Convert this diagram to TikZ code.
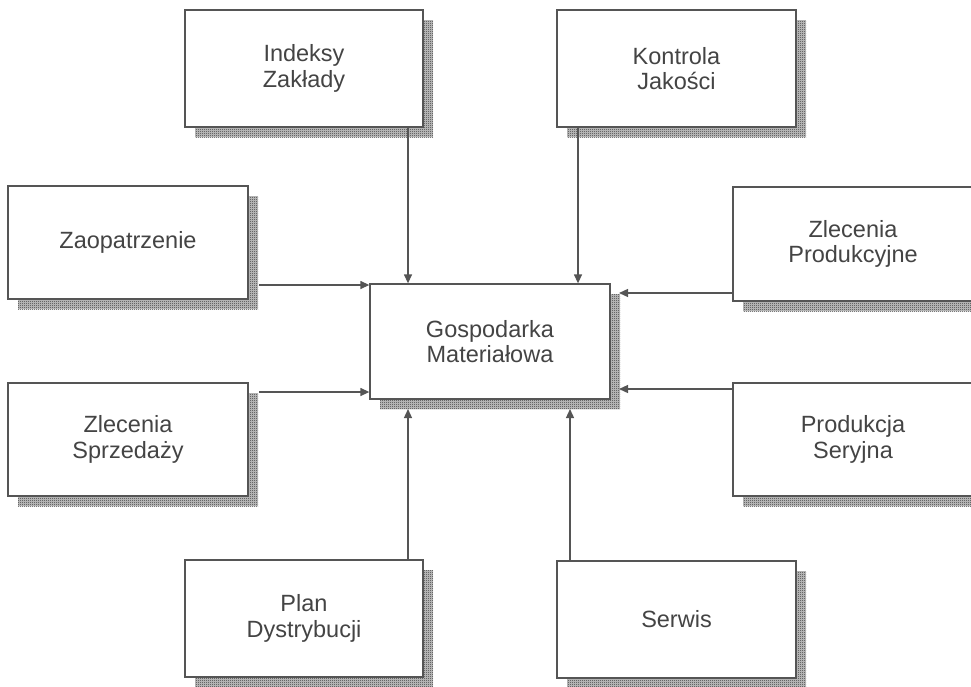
\documentclass[tikz,border=0pt]{standalone}
\usepackage{fontspec}
\setmainfont{Liberation Sans}
\usetikzlibrary{arrows.meta,patterns}
\definecolor{ink}{HTML}{444444}
\definecolor{linec}{HTML}{555555}
\pgfdeclarepatternformonly{finechk}{\pgfqpoint{0pt}{0pt}}{\pgfqpoint{2pt}{2pt}}{\pgfqpoint{2pt}{2pt}}{%
  \pgfpathrectangle{\pgfqpoint{0pt}{0pt}}{\pgfqpoint{1pt}{1pt}}%
  \pgfpathrectangle{\pgfqpoint{1pt}{1pt}}{\pgfqpoint{1pt}{1pt}}%
  \pgfusepath{fill}}
\tikzset{
  box/.style={draw=linec, line width=1.3pt, fill=white, align=center,
    text=ink, font=\fontsize{23.5}{25.5}\selectfont, inner sep=0pt},
  conn/.style={draw=linec, line width=1.3pt, -{Triangle[length=9pt,width=8pt]}},
  shadebase/.style={fill=gray!45},
  shade/.style={pattern=finechk, pattern color=black!80},
}
\newcommand{\shadowbox}[5]{%
  \fill[shadebase] ({#2+10},{#3+10}) rectangle ({#2+#4+10},{#3+#5+10});
  \fill[shade] ({#2+10},{#3+10}) rectangle ({#2+#4+10},{#3+#5+10});
}
\begin{document}
\begin{tikzpicture}[x=1pt,y=-1pt]
\useasboundingbox (0,0) rectangle (971,686);
% shadows
\shadowbox{a}{185}{10}{238}{117}
\shadowbox{b}{557}{10}{239}{117}
\shadowbox{c}{8}{186}{240}{113}
\shadowbox{d}{733}{187}{240}{114}
\shadowbox{e}{370}{284}{240}{115}
\shadowbox{f}{8}{383}{240}{113}
\shadowbox{g}{733}{383}{240}{113}
\shadowbox{h}{185}{560}{238}{117}
\shadowbox{i}{557}{561}{239}{117}
% boxes
\node[box, minimum width=238pt, minimum height=117pt] (idx) at (304,68.5) {Indeksy\\Zakłady};
\node[box, minimum width=239pt, minimum height=117pt] (kon) at (676.5,68.5) {Kontrola\\Jakości};
\node[box, minimum width=240pt, minimum height=113pt] (zao) at (128,242.5) {Zaopatrzenie};
\node[box, minimum width=240pt, minimum height=114pt] (zpr) at (853,244) {Zlecenia\\Produkcyjne};
\node[box, minimum width=240pt, minimum height=115pt] (gos) at (490,341.5) {Gospodarka\\Materiałowa};
\node[box, minimum width=240pt, minimum height=113pt] (zsp) at (128,439.5) {Zlecenia\\Sprzedaży};
\node[box, minimum width=240pt, minimum height=113pt] (pse) at (853,439.5) {Produkcja\\Seryjna};
\node[box, minimum width=238pt, minimum height=117pt] (pla) at (304,618.5) {Plan\\Dystrybucji};
\node[box, minimum width=239pt, minimum height=117pt] (ser) at (676.5,619.5) {Serwis};
% connector endpoints
\coordinate (zaoE) at (259,285);
\coordinate (zspE) at (259,392);
\coordinate (gosR1) at (619,293);
\coordinate (gosR2) at (619,389);
\coordinate (gosB1) at (408,409);
\coordinate (gosB2) at (570,409);
\coordinate (gosT2) at (578,0);
% connectors
\draw[conn] (idx.south -| gosB1) -- (gos.north -| gosB1);
\draw[conn] (kon.south -| gosT2) -- (gos.north -| gosT2);
\draw[conn] (zaoE) -- (gos.west |- zaoE);
\draw[conn] (zspE) -- (gos.west |- zspE);
\draw[conn] (zpr.west |- gosR1) -- (gosR1);
\draw[conn] (pse.west |- gosR2) -- (gosR2);
\draw[conn] (pla.north -| gosB1) -- (gosB1);
\draw[conn] (ser.north -| gosB2) -- (gosB2);
\end{tikzpicture}
\end{document}
